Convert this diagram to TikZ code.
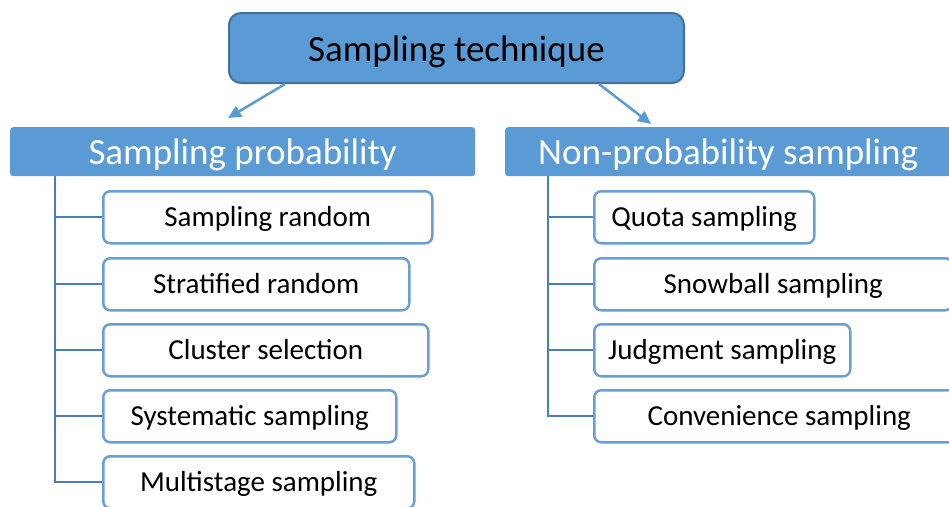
\documentclass[tikz,border=0pt]{standalone}
\usepackage{fontspec}
\setmainfont{Carlito}
\usetikzlibrary{arrows.meta}
\definecolor{boxblue}{HTML}{5B9BD5}
\definecolor{edgeblue}{HTML}{41719C}
\definecolor{kidline}{HTML}{6A9FD6}
\definecolor{stemblue}{HTML}{4A7EBB}
\begin{document}
\begin{tikzpicture}
        [
            x=1pt, y=-1pt,
            rootbox/.style={draw=edgeblue, fill=boxblue, line width=2pt, rounded corners=12pt, anchor=north west, inner sep=0pt, text height=35pt, text depth=7.5pt, font=\fontsize{37}{44}\selectfont},
            headbox/.style={fill=boxblue, rounded corners=3pt, anchor=north west, inner sep=0pt, text=white, minimum height=49pt, text height=33pt, text depth=7.5pt, font=\fontsize{37}{44}\selectfont},
            kidbox/.style={draw=kidline, fill=white, line width=2.5pt, rounded corners=7pt, anchor=north west, inner sep=0pt, minimum height=52pt, text height=25pt, text depth=6pt, font=\fontsize{29}{35}\selectfont},
            stem/.style={draw=stemblue, line width=2pt},
            branch/.style={draw=boxblue, line width=2.5pt, -{Triangle[length=13pt,width=12pt]}}
        ]

        \clip (0,0) rectangle (949,506);

        \node[rootbox, minimum width=455pt, minimum height=70pt] (root) at (228,12) {Sampling technique};

        \node[headbox, minimum width=465pt] (prob) at (10,127) {Sampling probability};
        \node[headbox, minimum width=446pt] (nonprob) at (505,127) {Non-probability sampling};

        \coordinate (probtip) at (228,118);
        \coordinate (nonprobtip) at (651,124);
        \draw[branch] ([xshift=57pt]root.south west) -- (probtip);
        \draw[branch] ([xshift=-86pt]root.south east) -- (nonprobtip);

        \node[kidbox, minimum width=329pt] (p1) at (102,190) {Sampling random};
        \node[kidbox, minimum width=306pt] (p2) at (102,257) {Stratified random};
        \node[kidbox, minimum width=325pt] (p3) at (102,323) {Cluster selection};
        \node[kidbox, minimum width=293pt] (p4) at (102,389) {Systematic sampling};
        \node[kidbox, minimum width=311pt] (p5) at (102,455) {Multistage sampling};

        \node[kidbox, minimum width=220pt] (n1) at (593,190) {Quota sampling};
        \node[kidbox, minimum width=358pt] (n2) at (593,257) {Snowball sampling};
        \node[kidbox, minimum width=256pt] (n3) at (593,323) {Judgment sampling};
        \node[kidbox, minimum width=370pt] (n4) at (593,389) {Convenience sampling};

        \coordinate (probstem) at (55,176);
        \coordinate (nonprobstem) at (548,176);
        \draw[stem] (probstem) |- (p5.west);
        \foreach \k in {1,...,4}
            \draw[stem] (probstem |- p\k.west) -- (p\k.west);
        \draw[stem] (nonprobstem) |- (n4.west);
        \foreach \k in {1,...,3}
            \draw[stem] (nonprobstem |- n\k.west) -- (n\k.west);
\end{tikzpicture}
\end{document}
